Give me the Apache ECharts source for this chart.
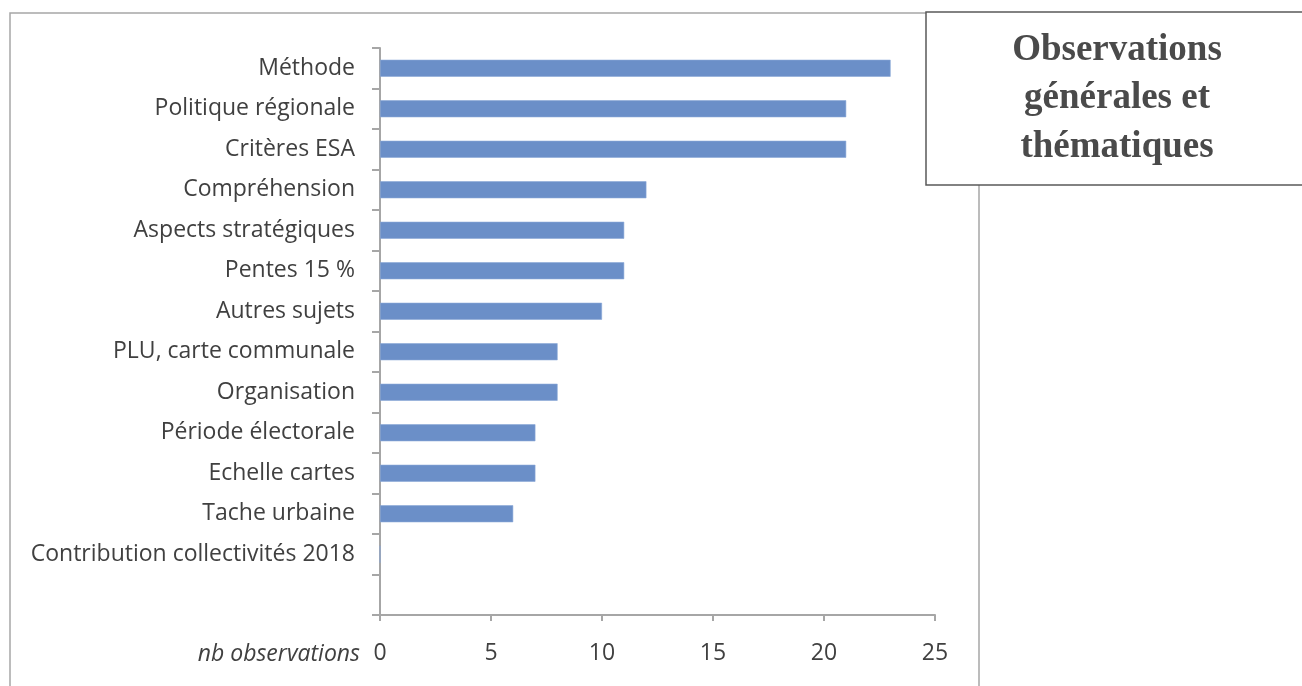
<!DOCTYPE html>
<html>
<head>
<meta charset="utf-8">
<script src="https://cdn.jsdelivr.net/npm/echarts@6/dist/echarts.min.js"></script>
<style>
  html, body { margin: 0; padding: 0; background: #fff; }
  #chart { width: 1302px; height: 686px; }
</style>
</head>
<body>
<div id="chart"></div>
<script>
// Thèmes des observations, du plus fréquent au moins fréquent (dernière ligne vide)
const categories = [
  'Méthode', 'Politique régionale', 'Critères ESA', 'Compréhension',
  'Aspects stratégiques', 'Pentes 15 %', 'Autres sujets', 'PLU, carte communale',
  'Organisation', 'Période électorale', 'Echelle cartes', 'Tache urbaine',
  'Contribution collectivités 2018', ''
];
const observations = [23, 21, 21, 12, 11, 11, 10, 8, 8, 7, 7, 6, 0, null];
const xTicks = [0, 5, 10, 15, 20, 25];
const axisName = 'nb observations';
const titleLines = ['Observations', 'générales et', 'thématiques'];

const chart = echarts.init(document.getElementById('chart'));
const labelFont = '"Open Sans", sans-serif';

chart.setOption({
  animation: false,
  grid: { left: 380, right: 367, top: 48, bottom: 71 },
  xAxis: {
    type: 'value',
    min: xTicks[0],
    max: xTicks[xTicks.length - 1],
    interval: xTicks[1] - xTicks[0],
    axisLine: { show: true, lineStyle: { color: '#a6a6a6', width: 2 } },
    axisTick: { show: true, length: 6, lineStyle: { color: '#a6a6a6', width: 2 } },
    splitLine: { show: false },
    axisLabel: { color: '#404040', fontSize: 23, fontFamily: labelFont, margin: 27 }
  },
  yAxis: {
    type: 'category',
    inverse: true,
    data: categories,
    axisLine: { show: true, lineStyle: { color: '#a6a6a6', width: 2 } },
    axisTick: { show: true, length: 8, lineStyle: { color: '#a6a6a6', width: 2 } },
    axisLabel: { color: '#404040', fontSize: 23, fontFamily: labelFont, margin: 25 }
  },
  series: [{
    type: 'bar',
    data: observations,
    barWidth: 17,
    itemStyle: { color: '#6b8fc8', borderColor: '#8aa7d6', borderWidth: 0.6 }
  }],
  graphic: [
    // Cadre extérieur du graphique
    { type: 'rect', z: -1, silent: true,
      shape: { x: 10, y: 13, width: 969, height: 700 },
      style: { fill: 'none', stroke: '#a6a6a6', lineWidth: 1.5 } },
    // Encadré du titre
    { type: 'rect', z: 10, silent: true,
      shape: { x: 926, y: 12, width: 380, height: 173 },
      style: { fill: '#ffffff', stroke: '#595959', lineWidth: 1.5 } },
    { type: 'text', z: 11, silent: true, x: 1117, y: 26,
      style: { text: titleLines.join('\n'), fill: '#4a4a4a',
        font: 'bold 37px "Liberation Serif", "Times New Roman", serif',
        lineHeight: 48.5, align: 'center', verticalAlign: 'top' } },
    // Intitulé de l'axe des valeurs
    { type: 'text', silent: true, x: 360, y: 654,
      style: { text: axisName, fill: '#404040', align: 'right', verticalAlign: 'middle',
        font: 'italic 23px "Open Sans", sans-serif' } }
  ]
});
</script>
</body>
</html>
